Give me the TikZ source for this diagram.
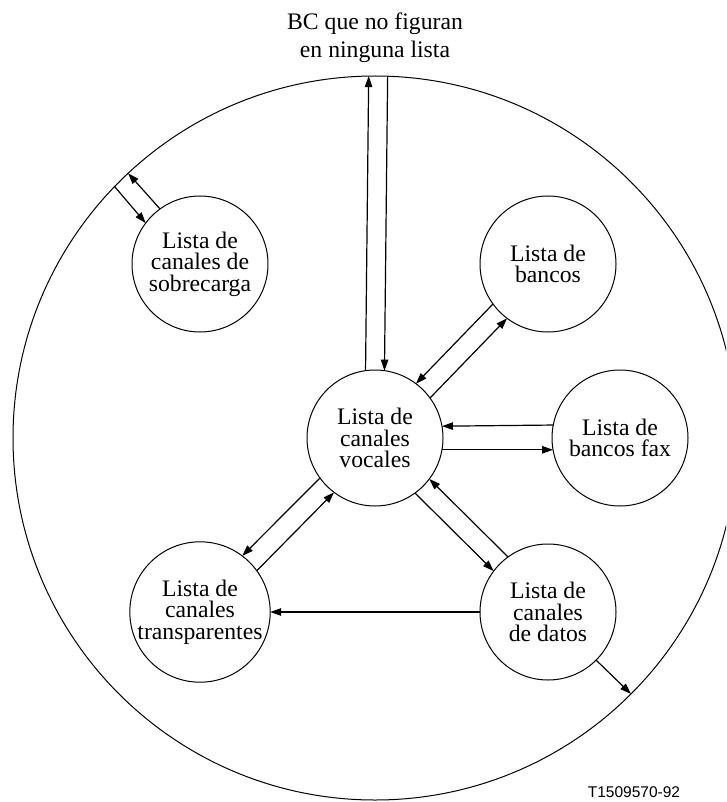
\documentclass[tikz,border=0pt]{standalone}
\usepackage{fontspec}
\setmainfont{Liberation Serif}
\newfontfamily\labelfont{Liberation Sans}
\usetikzlibrary{arrows.meta}
\begin{document}
\begin{tikzpicture}[x=1pt,y=-1pt,
  lst/.style={circle, draw, line width=1pt, minimum size=136pt, inner sep=0pt, outer sep=0pt,
    align=center, font=\fontsize{23.7}{21.5}\selectfont},
  outerc/.style={circle, draw, line width=1pt, minimum size=724pt, inner sep=0pt, outer sep=0pt},
  arr/.style={line width=1.2pt, -{Triangle[length=11pt,width=7.5pt]}},
  ln/.style={line width=1.2pt}]
\useasboundingbox (0,0) rectangle (726,802);
\clip (0,0) rectangle (726,802);
\node[outerc] (O) at (375,438) {};
\node[lst] (S) at (200,264) {Lista de\\canales de\\sobrecarga};
\node[lst] (B) at (548,264) {Lista de\\bancos};
\node[lst] (V) at (375,438) {Lista de\\canales\\vocales};
\node[lst] (F) at (620,438) {Lista de\\bancos fax};
\node[lst] (T) at (200,612) {Lista de\\canales\\transparentes};
\node[lst] (D) at (548,612) {Lista de\\canales\\de datos};
\node[font=\fontsize{23.7}{28}\selectfont, align=center, anchor=base] (top) at (375,58) {BC que no figuran\\en ninguna lista};
\node[font=\labelfont\fontsize{15.5}{18}\selectfont, anchor=base] (id) at (634,797) {T1509570-92};
% top
\draw[arr] (V.98) -- (O.91.5);
\draw[arr] (O.88.5) -- (V.82);
% sobrecarga
\draw[arr] (S.126.1) -- (O.133.34);
\draw[arr] (O.136.66) -- (S.143.9);
% bancos
\draw[arr] (B.216.55) -- (V.53.45);
\draw[arr] (V.36.55) -- (B.233.45);
% fax
\draw[arr] (F.169.84) -- (V.10.16);
\draw[arr] (V.-10.16) -- (F.190.16);
% transparentes
\draw[arr] (V.216.55) -- (T.53.45);
\draw[arr] (T.36.55) -- (V.233.45);
% datos
\draw[arr] (V.306.55) -- (D.143.45);
\draw[arr] (D.126.55) -- (V.323.45);
\draw[arr] (D.west) -- (T.east);
\draw[arr] (D.-45) -- (O.-45);
\end{tikzpicture}
\end{document}
